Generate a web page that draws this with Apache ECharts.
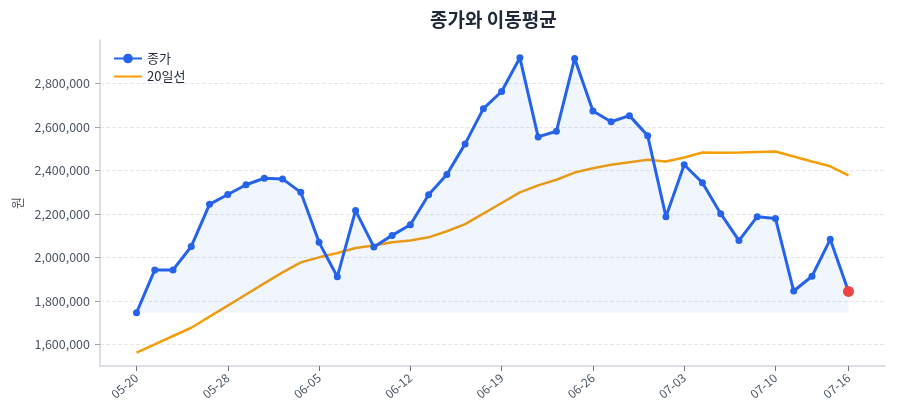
<!DOCTYPE html>
<html>
<head>
<meta charset="utf-8">
<script src="https://cdn.jsdelivr.net/npm/echarts@6/dist/echarts.min.js"></script>
<style>html,body{margin:0;padding:0;background:#fff;}#c{width:900px;height:420px;}</style>
</head>
<body>
<div id="c"></div>
<script>
const dates = ['05-20','05-21','05-22','05-23','05-27','05-28','05-29','05-30','06-02','06-04',
  '06-05','06-06','06-09','06-10','06-11','06-12','06-13','06-16','06-17','06-18',
  '06-19','06-20','06-23','06-24','06-25','06-26','06-27','06-30','07-01','07-02',
  '07-03','07-04','07-07','07-08','07-09','07-10','07-11','07-14','07-15','07-16'];
const close = [1745000,1942000,1942000,2050000,2244000,2289000,2334000,2364000,2361000,2299000,
  2069000,1911000,2215000,2048000,2101000,2150000,2288000,2381000,2522000,2684000,
  2763000,2918000,2554000,2580000,2915000,2673000,2624000,2652000,2560000,2187000,
  2426000,2343000,2201000,2077000,2187000,2179000,1845000,1913000,2083000,1843000];
const ma20 = [1562000,1600000,1638000,1676000,1727000,1778000,1829000,1880000,1931000,1977000,
  2000000,2020000,2043000,2054000,2069000,2077000,2092000,2120000,2153000,2201000,
  2250000,2299000,2331000,2357000,2390000,2410000,2426000,2438000,2449000,2441000,
  2459000,2482000,2481000,2482000,2485000,2487000,2464000,2441000,2419000,2377000];
const xTickIdx = [0,5,10,15,20,25,30,35,39];
const yTicks = [1600000,1800000,2000000,2200000,2400000,2600000,2800000];

const FONT = '"Noto Sans CJK KR","Noto Sans",sans-serif';
const minClose = Math.min(...close);
const last = close.length - 1;
const closeData = close.map((v,i) => i === last
  ? {value:[i,v], symbolSize:11, itemStyle:{color:'#ef4444'}}
  : [i,v]);

const chart = echarts.init(document.getElementById('c'));
chart.setOption({
  animation:false,
  textStyle:{fontFamily:FONT},
  title:{text:'종가와 이동평균', left:425, top:5,
    textStyle:{fontSize:19, fontWeight:'bold', color:'#1f2937', fontFamily:FONT}},
  legend:{orient:'vertical', left:108, top:47, itemWidth:28, itemHeight:12, itemGap:5,
    textStyle:{fontSize:13, color:'#1f2937', fontFamily:FONT},
    data:['종가', {name:'20일선', itemStyle:{opacity:0}}]},
  grid:{left:100, right:15, top:40, bottom:54},
  xAxis:{type:'value', min:-2, max:41,
    axisLine:{show:true, onZero:false, lineStyle:{color:'#d1d5db', width:1.5}},
    axisTick:{show:true, customValues:xTickIdx, length:5, lineStyle:{color:'#6b7280'}},
    axisLabel:{customValues:xTickIdx, rotate:40, margin:10, fontSize:12, color:'#4b5563',
      formatter:v => dates[v]},
    splitLine:{show:false}},
  yAxis:{type:'value', min:1500000, max:3000000, name:'원', nameLocation:'middle', nameGap:68,
    nameTextStyle:{fontSize:13, color:'#4b5563'},
    axisLine:{show:true, onZero:false, lineStyle:{color:'#d1d5db', width:1.5}},
    axisTick:{show:true, customValues:yTicks, length:5, lineStyle:{color:'#9ca3af'}},
    axisLabel:{customValues:yTicks, margin:10, fontSize:12.5, color:'#4b5563',
      formatter:v => v.toLocaleString('en-US')},
    splitLine:{show:true, lineStyle:{type:'dashed', color:'#e5e7eb', width:1}}},
  series:[
    {name:'종가', type:'line', data:closeData, symbol:'circle', symbolSize:7,
      showAllSymbol:true,
      lineStyle:{color:'#2563eb', width:3}, itemStyle:{color:'#2563eb'},
      areaStyle:{color:'rgba(37,99,235,0.09)', origin:minClose}, z:3},
    {name:'20일선', type:'line', data:ma20.map((v,i)=>[i,v]), symbol:'none',
      lineStyle:{color:'#f59e0b', width:2.5}, itemStyle:{color:'#f59e0b'}, z:2}
  ]
});
</script>
</body>
</html>
